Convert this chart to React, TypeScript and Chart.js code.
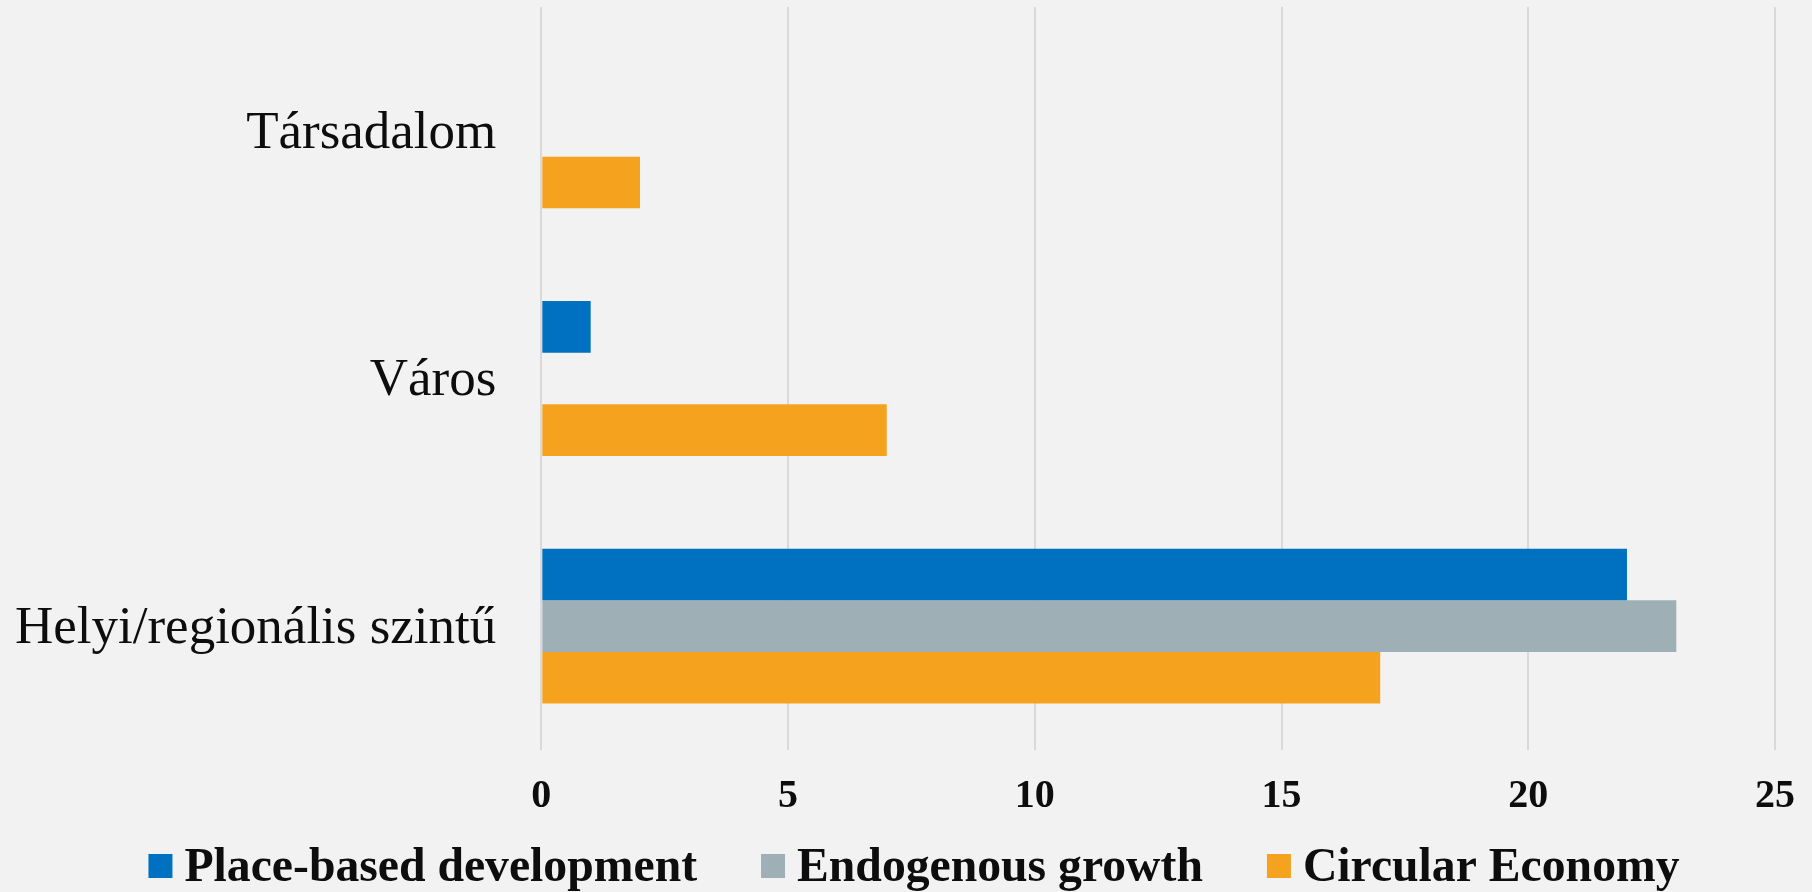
import React, { useEffect, useRef } from "react";
import { Chart, registerables } from "chart.js";

Chart.register(...registerables);

const categories = ["Társadalom", "Város", "Helyi/regionális szintű"];
const seriesNames = ["Place-based development", "Endogenous growth", "Circular Economy"];
const placeBased = [0, 1, 22];
const endogenous = [0, 0, 23];
const circular = [2, 7, 17];
const seriesColors = ["#0070c0", "#9eb0b5", "#f5a31f"];
const xTicks = [0, 5, 10, 15, 20, 25];

const SERIF = "'Liberation Serif', 'Times New Roman', serif";

const bgPlugin = {
  id: "bg",
  beforeDraw(chart: any) {
    const { ctx, width, height } = chart;
    ctx.save();
    ctx.fillStyle = "#f2f2f2";
    ctx.fillRect(0, 0, width, height);
    ctx.restore();
  },
};

// Legend drawn below the axis: box, small gap, bold text, wide gap between items.
const legendPlugin = {
  id: "customLegend",
  afterDraw(chart: any) {
    const { ctx, width } = chart;
    const box = 24;
    const boxGap = 12;
    const itemGap = 64;
    ctx.save();
    ctx.font = `bold 47.7px ${SERIF}`;
    ctx.textBaseline = "alphabetic";
    ctx.textAlign = "left";
    const items = chart.data.datasets.map((ds: any) => ({
      text: ds.label as string,
      color: ds.backgroundColor as string,
      w: ctx.measureText(ds.label).width,
    }));
    const total =
      items.reduce((s: number, it: any) => s + box + boxGap + it.w, 0) + itemGap * (items.length - 1);
    let x = (width - total) / 2 + 8;
    const boxTop = chart.chartArea.bottom + 104;
    const baseline = chart.chartArea.bottom + 131;
    items.forEach((it: any) => {
      ctx.fillStyle = it.color;
      ctx.fillRect(x, boxTop, box, box);
      ctx.fillStyle = "#0d0d0d";
      ctx.fillText(it.text, x + box + boxGap, baseline);
      x += box + boxGap + it.w + itemGap;
    });
    ctx.restore();
  },
};

export default function App() {
  const ref = useRef<HTMLCanvasElement | null>(null);
  useEffect(() => {
    document.body.style.margin = "0";
    document.body.style.background = "#f2f2f2";
    const values = [placeBased, endogenous, circular];
    const chart = new Chart(ref.current as HTMLCanvasElement, {
      type: "bar",
      data: {
        labels: categories,
        datasets: seriesNames.map((name, i) => ({
          label: name,
          data: values[i],
          backgroundColor: seriesColors[i],
          borderWidth: 0,
          barPercentage: 1,
          categoryPercentage: 0.625,
        })),
      },
      options: {
        indexAxis: "y",
        animation: false,
        responsive: false,
        devicePixelRatio: 1,
        layout: { padding: { left: 15, right: 37, top: 7, bottom: 48 } },
        scales: {
          x: {
            min: 0,
            max: 25,
            afterBuildTicks: (axis: any) => {
              axis.ticks = xTicks.map((v) => ({ value: v }));
            },
            afterFit: (axis: any) => {
              axis.paddingLeft = 0;
              axis.paddingRight = 0;
            },
            grid: { color: "#d9d9d9", lineWidth: 2, drawTicks: false },
            border: { display: false },
            ticks: {
              padding: 23,
              color: "#0d0d0d",
              font: { family: SERIF, size: 40, weight: "bold" },
            },
          },
          y: {
            grid: { display: false, drawTicks: true, tickLength: 45 },
            border: { display: false },
            afterFit: (axis: any) => {
              axis.paddingTop = 0;
              axis.paddingBottom = 0;
            },
            ticks: {
              padding: 0,
              labelOffset: 3,
              color: "#0d0d0d",
              font: { family: SERIF, size: 53 },
            },
          },
        },
        plugins: {
          legend: { display: false },
          tooltip: { enabled: false },
        },
      },
      plugins: [bgPlugin, legendPlugin],
    });
    return () => chart.destroy();
  }, []);
  return (
    <div style={{ position: "fixed", left: 0, top: 0, width: 1812, height: 892, background: "#f2f2f2" }}>
      <canvas ref={ref} width={1812} height={892} style={{ width: 1812, height: 892, display: "block" }} />
    </div>
  );
}
